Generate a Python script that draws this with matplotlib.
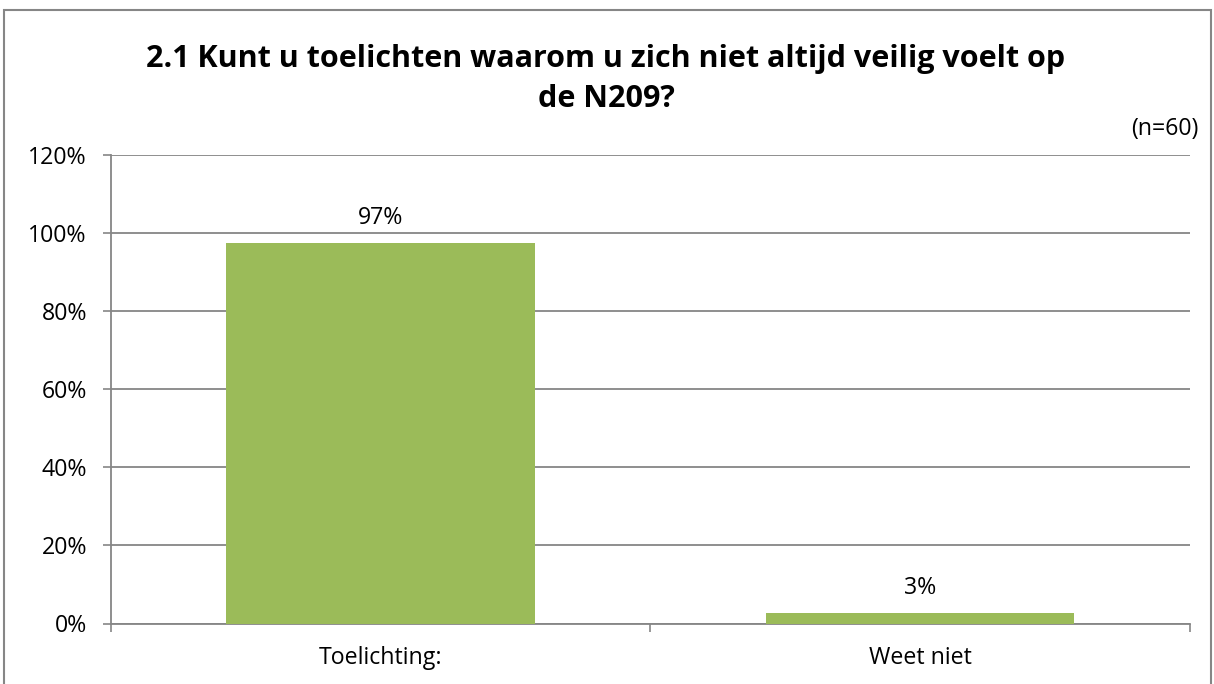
import matplotlib
matplotlib.use("Agg")
import matplotlib.pyplot as plt
from matplotlib.patches import Rectangle

categories = ["Toelichting:", "Weet niet"]
values = [97.3, 2.7]
yticks = [0, 20, 40, 60, 80, 100, 120]
title = "2.1 Kunt u toelichten waarom u zich niet altijd veilig voelt op\nde N209?"
note = "(n=60)"

FONT = "Open Sans"
plt.rcParams['font.family'] = [FONT, 'DejaVu Sans']

W, H = 1214, 684
fig = plt.figure(figsize=(W / 100, H / 100), dpi=100)
fig.patch.set_facecolor("white")

FS = 16.7
ax = fig.add_axes([110.5 / W, 1 - 623.5 / H, (1190 - 110.5) / W, (623.5 - 154.5) / H])
x = list(range(len(categories)))
bars = ax.bar(x, values, width=0.572, color="#9BBB59", zorder=3)
ax.set_xlim(-0.5, len(categories) - 0.5)
ax.set_ylim(0, 120)
ax.set_yticks(yticks)
ax.set_yticklabels([f"{t}%" for t in yticks], fontsize=FS, color="#000000")
ax.yaxis.grid(True, color="#868686", linewidth=1.3, zorder=0)
ax.set_axisbelow(True)

ax.set_xticks([-0.5, 0.5, 1.5])
ax.set_xticklabels([])
ax.set_xticks(x, minor=True)
ax.set_xticklabels(categories, minor=True, fontsize=FS)
ax.tick_params(axis="x", which="major", length=6, color="#868686", width=1.2, direction="out")
ax.tick_params(axis="x", which="minor", length=0, pad=16)
ax.tick_params(axis="y", length=6, color="#868686", width=1.2, pad=11)

for s in ["top", "right"]:
    ax.spines[s].set_visible(False)
for s in ["left", "bottom"]:
    ax.spines[s].set_color("#868686")
    ax.spines[s].set_linewidth(1.3)

for xi, v in zip(x, values):
    ax.annotate(f"{v:.0f}%", (xi, v), xytext=(0, 13.5), textcoords="offset points",
                ha="center", va="baseline", fontsize=FS)

fig.text(606 / W, 1 - 79 / H, title, ha="center", va="center", fontsize=22,
         fontweight="bold", linespacing=1.42)
fig.text(1198 / W, 1 - 129 / H, note, ha="right", va="center", fontsize=FS)

fig.add_artist(Rectangle((4 / W, -0.01), (1211 - 4) / W, 1 - 10 / H + 0.01,
                         transform=fig.transFigure, fill=False,
                         edgecolor="#868686", linewidth=1.5))

fig.savefig("out.png", dpi=100, facecolor="white")
